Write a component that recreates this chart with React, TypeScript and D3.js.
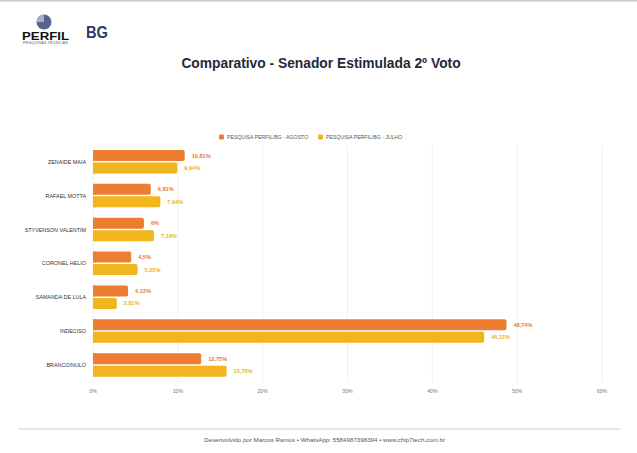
import React, { useEffect } from 'react';
import * as d3 from 'd3';

const candidates = [
  'ZENAIDE MAIA',
  'RAFAEL MOTTA',
  'STYVENSON VALENTIM',
  'CORONEL HELIO',
  'SAMANDA DE LULA',
  'INDECISO',
  'BRANCO/NULO',
];
const seriesNames = ['PESQUISA PERFIL/BG - AGOSTO', 'PESQUISA PERFIL/BG - JULHO'];
const agosto = [10.81, 6.81, 6, 4.5, 4.13, 48.74, 12.75];
const julho = [9.94, 7.94, 7.19, 5.25, 2.81, 46.11, 15.75];
const xTicks = [0, 10, 20, 30, 40, 50, 60];

const colors = ['#ED7D31', '#F1B51D'];
const labelColors = ['#E4793A', '#E9B21F'];

const W = 637;
const H = 453;
const FONT = 'Liberation Sans, Arial, Helvetica, sans-serif';

const fmt = (v: number) => String(v).replace('.', ',') + '%';

const App: React.FC = () => {
  useEffect(() => {
    document.body.style.margin = '0';
  }, []);

  const x = d3.scaleLinear().domain([0, 60]).range([93, 602]);
  const y = d3.scaleBand<string>().domain(candidates).range([145, 382]);
  const inner = d3.scaleBand<number>().domain([0, 1]).range([5, 28.5]).paddingInner(0.12);
  const series = [agosto, julho];

  return (
    <svg width={W} height={H} style={{ display: 'block', background: '#fff' }} fontFamily={FONT}>
      <line x1={0} x2={W} y1={0.75} y2={0.75} stroke="#c8c8c8" strokeWidth={1.5} />

      {/* logos */}
      <g>
        <circle cx={44} cy={22} r={7.5} fill="#55658f" />
        <path d={d3.arc()({ innerRadius: 0, outerRadius: 7.5, startAngle: -Math.PI / 2, endAngle: 0 }) || ''} transform="translate(44,22)" fill="#a3b0d0" />
        <text x={22} y={40} fontSize={11} fontWeight={900} fill="#111" textLength={47} lengthAdjust="spacingAndGlyphs">PERFIL</text>
        <text x={23} y={44} fontSize={2.6} fill="#666" textLength={45} lengthAdjust="spacingAndGlyphs">PESQUISAS TÉCNICAS</text>
        <text x={86} y={37.5} fontSize={17} fontWeight={700} fill="#2d3a6b" textLength={22} lengthAdjust="spacingAndGlyphs">BG</text>
      </g>

      <text x={321} y={67.5} textAnchor="middle" fontSize={13.8} fontWeight={700} fill="#1e2a3a">
        Comparativo - Senador Estimulada 2º Voto
      </text>

      {/* legend */}
      {seriesNames.map((s, i) => {
        const lx = i === 0 ? 219 : 318;
        return (
          <g key={s}>
            <rect x={lx} y={134.5} width={5} height={5} rx={1} fill={colors[i]} />
            <text x={lx + 8} y={139} fontSize={5.2} fill="#555">{s}</text>
          </g>
        );
      })}

      {/* grid */}
      {xTicks.map((t) => (
        <g key={t}>
          <line x1={x(t)} x2={x(t)} y1={145} y2={382} stroke="#ececec" strokeWidth={0.8} />
          <text x={x(t)} y={393} textAnchor="middle" fontSize={5.2} fill="#777">{t}%</text>
        </g>
      ))}

      {/* bars */}
      {candidates.map((c, ci) => (
        <g key={c} transform={`translate(0,${y(c)})`}>
          <text x={86} y={y.bandwidth() / 2 + 2} textAnchor="end" fontSize={5.4} fill="#333">{c}</text>
          {series.map((vals, si) => {
            const by = inner(si) as number;
            const bh = inner.bandwidth();
            const w = x(vals[ci]) - x(0);
            return (
              <g key={si}>
                <rect x={x(0)} y={by} width={w} height={bh} rx={2} fill={colors[si]} />
                <rect x={x(0)} y={by} width={Math.min(w, 3)} height={bh} fill={colors[si]} />
                <text x={x(vals[ci]) + 7} y={by + bh / 2 + 2} fontSize={5.6} fontWeight={700} fill={labelColors[si]}>
                  {fmt(vals[ci])}
                </text>
              </g>
            );
          })}
        </g>
      ))}

      {/* footer */}
      <line x1={18} x2={620} y1={429} y2={429} stroke="#cfcfcf" strokeWidth={1} />
      <text x={324.5} y={441.5} textAnchor="middle" fontSize={6.2} fill="#555">
        Desenvolvido por Marcos Ramos • WhatsApp: 5584987398394 • www.chip7tech.com.br
      </text>
    </svg>
  );
};

export default App;
